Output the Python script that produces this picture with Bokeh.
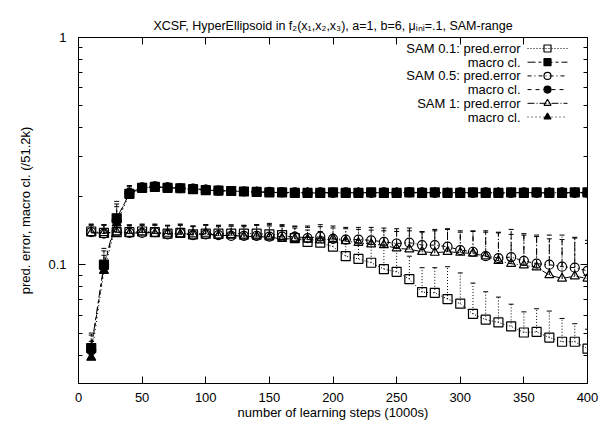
import math
from bokeh.plotting import figure
from bokeh.models import FixedTicker, LinearAxis, LogAxis, CustomJSTickFormatter, Label, Range1d
from bokeh.embed import file_html
from bokeh.resources import INLINE

FONT = "Liberation Sans"
FS = "13px"

# ---------------- data ----------------
steps = [10, 20, 30, 40, 50, 60, 70, 80, 90, 100,
         110, 120, 130, 140, 150, 160, 170, 180, 190, 200,
         210, 220, 230, 240, 250, 260, 270, 280, 290, 300,
         310, 320, 330, 340, 350, 360, 370, 380, 390, 400]

x_ticks = [0, 50, 100, 150, 200, 250, 300, 350, 400]
y_ticks = [0.1, 1]
y_minor = [0.03, 0.04, 0.05, 0.06, 0.07, 0.08, 0.09, 0.2, 0.3, 0.4, 0.5, 0.6, 0.7, 0.8, 0.9]

sam01_pred = [0.140, 0.138, 0.139, 0.139, 0.140, 0.139, 0.137, 0.138, 0.136, 0.137,
              0.137, 0.137, 0.137, 0.137, 0.136, 0.135, 0.131, 0.126, 0.125, 0.120,
              0.109, 0.106, 0.102, 0.0956, 0.093, 0.0864, 0.0757, 0.0752, 0.0706, 0.0674,
              0.0607, 0.0573, 0.0557, 0.0535, 0.0503, 0.0506, 0.0478, 0.0458, 0.0458, 0.0427]
sam01_pred_top = [0.151, 0.150, 0.150, 0.149, 0.151, 0.150, 0.149, 0.151, 0.148, 0.150,
                  0.149, 0.150, 0.149, 0.150, 0.148, 0.147, 0.145, 0.142, 0.140, 0.136,
                  0.130, 0.128, 0.126, 0.122, 0.118, 0.109, 0.097, 0.097, 0.098, 0.092,
                  0.083, 0.076, 0.072, 0.067, 0.062, 0.064, 0.0625, 0.058, 0.055, 0.052]

sam05_pred = [0.139, 0.137, 0.140, 0.138, 0.138, 0.139, 0.136, 0.138, 0.135, 0.136,
              0.135, 0.134, 0.134, 0.134, 0.133, 0.133, 0.133, 0.131, 0.133, 0.130,
              0.129, 0.129, 0.128, 0.126, 0.124, 0.125, 0.122, 0.122, 0.120, 0.116,
              0.114, 0.109, 0.107, 0.108, 0.104, 0.101, 0.100, 0.098, 0.097, 0.094]
sam05_pred_top = [0.150, 0.149, 0.151, 0.150, 0.149, 0.151, 0.149, 0.150, 0.148, 0.150,
                  0.149, 0.148, 0.149, 0.150, 0.152, 0.150, 0.148, 0.148, 0.150, 0.148,
                  0.146, 0.146, 0.146, 0.145, 0.144, 0.145, 0.139, 0.143, 0.143, 0.139,
                  0.141, 0.139, 0.139, 0.143, 0.137, 0.135, 0.135, 0.135, 0.132, 0.128]

sam1_pred = [0.138, 0.138, 0.139, 0.137, 0.139, 0.137, 0.137, 0.136, 0.136, 0.137,
             0.134, 0.135, 0.133, 0.133, 0.132, 0.130, 0.130, 0.129, 0.128, 0.130,
             0.127, 0.125, 0.123, 0.122, 0.118, 0.117, 0.114, 0.113, 0.114, 0.113,
             0.112, 0.109, 0.104, 0.101, 0.0995, 0.0975, 0.090, 0.087, 0.089, 0.087]
sam1_pred_top = [0.149, 0.150, 0.149, 0.148, 0.150, 0.149, 0.148, 0.149, 0.147, 0.149,
                 0.147, 0.148, 0.147, 0.149, 0.150, 0.149, 0.147, 0.146, 0.147, 0.145,
                 0.144, 0.143, 0.142, 0.141, 0.140, 0.141, 0.140, 0.141, 0.144, 0.141,
                 0.140, 0.141, 0.138, 0.136, 0.135, 0.133, 0.130, 0.129, 0.131, 0.124]

sam01_macro = [0.043, 0.100, 0.160, 0.205, 0.218, 0.220, 0.218, 0.217, 0.215, 0.213,
               0.212, 0.211, 0.210, 0.209, 0.208, 0.208, 0.207, 0.207, 0.207, 0.208,
               0.207, 0.207, 0.208, 0.207, 0.207, 0.208, 0.207, 0.208, 0.207, 0.207,
               0.208, 0.207, 0.207, 0.208, 0.207, 0.208, 0.207, 0.207, 0.208, 0.208]
sam01_macro_top = [0.050, 0.118, 0.190, 0.222, 0.226, 0.227, 0.225, 0.224, 0.222, 0.220,
                   0.219, 0.218, 0.217, 0.216, 0.215, 0.215, 0.214, 0.214, 0.214, 0.215,
                   0.214, 0.214, 0.215, 0.214, 0.214, 0.215, 0.214, 0.215, 0.214, 0.214,
                   0.215, 0.214, 0.214, 0.215, 0.214, 0.215, 0.214, 0.214, 0.215, 0.215]

sam05_macro = [0.042, 0.098, 0.157, 0.207, 0.219, 0.221, 0.219, 0.217, 0.216, 0.214,
               0.212, 0.211, 0.210, 0.209, 0.209, 0.208, 0.208, 0.207, 0.208, 0.207,
               0.208, 0.207, 0.207, 0.208, 0.207, 0.208, 0.208, 0.207, 0.207, 0.208,
               0.207, 0.208, 0.207, 0.207, 0.208, 0.207, 0.207, 0.208, 0.207, 0.207]
sam05_macro_top = [0.049, 0.115, 0.185, 0.223, 0.227, 0.228, 0.226, 0.224, 0.223, 0.221,
                   0.219, 0.218, 0.217, 0.216, 0.216, 0.215, 0.215, 0.214, 0.215, 0.214,
                   0.215, 0.214, 0.214, 0.215, 0.214, 0.215, 0.215, 0.214, 0.214, 0.215,
                   0.214, 0.215, 0.214, 0.214, 0.215, 0.214, 0.214, 0.215, 0.214, 0.214]

sam1_macro = [0.039, 0.094, 0.152, 0.204, 0.217, 0.220, 0.218, 0.216, 0.215, 0.213,
              0.211, 0.210, 0.209, 0.209, 0.208, 0.207, 0.207, 0.208, 0.207, 0.207,
              0.207, 0.208, 0.207, 0.207, 0.208, 0.207, 0.207, 0.208, 0.207, 0.207,
              0.207, 0.207, 0.208, 0.207, 0.207, 0.207, 0.208, 0.207, 0.207, 0.207]
sam1_macro_top = [0.046, 0.110, 0.180, 0.220, 0.225, 0.227, 0.225, 0.223, 0.222, 0.220,
                  0.218, 0.217, 0.216, 0.216, 0.215, 0.214, 0.214, 0.215, 0.214, 0.214,
                  0.214, 0.215, 0.214, 0.214, 0.215, 0.214, 0.214, 0.215, 0.214, 0.214,
                  0.214, 0.214, 0.215, 0.214, 0.214, 0.214, 0.215, 0.214, 0.214, 0.214]

series_labels = ["SAM 0.1: pred.error", "macro cl.", "SAM 0.5: pred.error",
                 "macro cl.", "SAM 1: pred.error", "macro cl."]

# ---------------- figure ----------------
Y0, Y1 = 0.03, 1.0
p = figure(frame_width=509, frame_height=346,
           x_range=Range1d(0, 400), y_range=Range1d(Y0, Y1),
           y_axis_type="log", output_backend="svg", toolbar_location=None,
           min_border_left=78, min_border_right=14, min_border_top=37, min_border_bottom=30)

p.title.text = "XCSF, HyperEllipsoid in f\u2082(x\u2081,x\u2082,x\u2083), a=1, b=6, \u03bc\u1d62\u2099\u1d62=.1, SAM-range"
p.title.align = "center"
p.title.text_font = FONT
p.title.text_font_size = "12.5px"
p.title.text_font_style = "normal"
p.title.text_color = "black"

p.grid.visible = False
p.outline_line_color = "black"
p.outline_line_alpha = 1.0
p.background_fill_color = "white"
p.border_fill_color = "white"

def style_axis(ax, labels=True):
    ax.axis_line_color = "black"
    ax.major_tick_line_color = "black"
    ax.minor_tick_line_color = "black"
    ax.major_tick_in = 7
    ax.major_tick_out = 0
    ax.minor_tick_in = 4
    ax.minor_tick_out = 0
    ax.major_label_text_font = FONT
    ax.major_label_text_font_size = FS
    ax.major_label_text_color = "black" if labels else None
    ax.axis_label_text_font = FONT
    ax.axis_label_text_font_size = FS
    ax.axis_label_text_font_style = "normal"
    ax.axis_label_text_color = "black"

xt = FixedTicker(ticks=x_ticks, minor_ticks=[])
yt = FixedTicker(ticks=y_ticks, minor_ticks=y_minor)
yfmt = CustomJSTickFormatter(code="return tick.toString();")

p.xaxis.ticker = xt
p.xaxis.axis_label = "number of learning steps (1000s)"
p.xaxis.major_label_standoff = 9
p.xaxis.axis_label_standoff = 0
style_axis(p.xaxis[0])

p.yaxis.ticker = yt
p.yaxis.formatter = yfmt
p.yaxis.axis_label = "pred. error, macro cl. (/51.2k)"
p.yaxis.major_label_standoff = 12
p.yaxis.axis_label_standoff = 12
style_axis(p.yaxis[0])

top_ax = LinearAxis(ticker=FixedTicker(ticks=x_ticks, minor_ticks=[]), major_label_standoff=0)
style_axis(top_ax, labels=False)
top_ax.major_label_text_font_size = "0px"
p.add_layout(top_ax, "above")

right_ax = LogAxis(ticker=FixedTicker(ticks=y_ticks, minor_ticks=y_minor), formatter=yfmt,
                   major_label_standoff=0)
style_axis(right_ax, labels=False)
right_ax.major_label_text_font_size = "0px"
p.add_layout(right_ax, "right")

# ---------------- series ----------------
specs = [
    (sam01_pred, sam01_pred_top, "square", None, "1 2"),
    (sam01_macro, sam01_macro_top, "square", "black", "8 3 3 3"),
    (sam05_pred, sam05_pred_top, "circle", None, "4 3 1 3"),
    (sam05_macro, sam05_macro_top, "circle", "black", "4 4"),
    (sam1_pred, sam1_pred_top, "triangle", None, "7 2 1 2"),
    (sam1_macro, sam1_macro_top, "triangle", "black", "1 3"),
]

for ys, tops, mk, fill, dash in specs:
    p.segment(x0=steps, y0=ys, x1=steps, y1=tops, line_color="black", line_width=1, line_dash=dash)
    p.scatter(x=steps, y=tops, marker="dash", size=5, line_color="black", line_width=1)
    p.line(x=steps, y=ys, line_color="black", line_width=1, line_dash=dash)
    p.scatter(x=steps, y=ys, marker=mk, size=9,
              line_color="black", line_width=1.2,
              fill_color=fill if fill else None, fill_alpha=1.0 if fill else 0.0)

# ---------------- legend (gnuplot style: text right, sample on the right) ----------------
FRAME_TOP, FRAME_H = 35.0, 346.0     # page pixels of plot frame
FRAME_LEFT, FRAME_W = 76.0, 509.0
LDEC = math.log10(Y1) - math.log10(Y0)

def px_x(px):
    return (px - FRAME_LEFT) / FRAME_W * 400.0

def px_y(py):
    return 10 ** (math.log10(Y1) - (py - FRAME_TOP) / FRAME_H * LDEC)

for i, (lbl, spec) in enumerate(zip(series_labels, specs)):
    py = 46.0 + 13.7 * i
    yy = px_y(py)
    p.add_layout(Label(x=px_x(518), y=yy, text=lbl, text_align="right", text_baseline="middle",
                       text_font=FONT, text_font_size=FS, text_color="black"))
    _, _, mk, fill, dash = spec
    p.line(x=[px_x(525), px_x(565)], y=[yy, yy], line_color="black", line_width=1, line_dash=dash)
    p.scatter(x=[px_x(545)], y=[yy], marker=mk, size=7, line_color="black", line_width=1.2,
              fill_color=fill if fill else None, fill_alpha=1.0 if fill else 0.0)

open("out.html", "w").write(file_html(p, INLINE))
